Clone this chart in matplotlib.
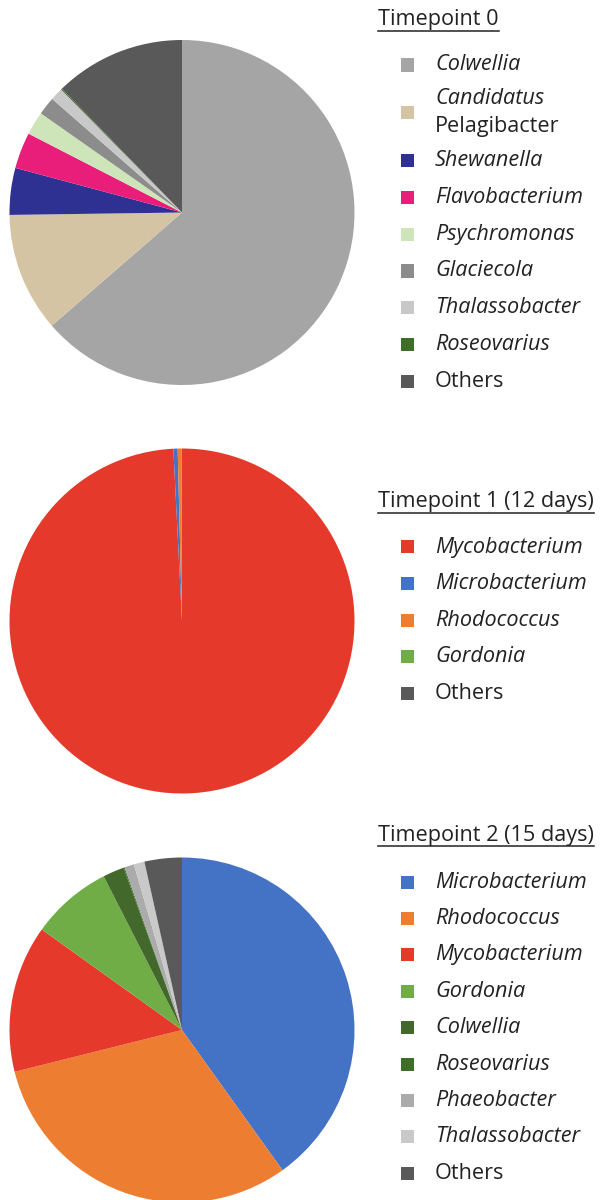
import matplotlib
matplotlib.use("Agg")
import matplotlib.pyplot as plt
from matplotlib.patches import Rectangle
from matplotlib.lines import Line2D

plt.rcParams['font.family'] = ['Open Sans', 'DejaVu Sans']

# Timepoint 0
t0_labels = ["Colwellia", "Candidatus\nPelagibacter", "Shewanella", "Flavobacterium",
             "Psychromonas", "Glaciecola", "Thalassobacter", "Roseovarius", "Others"]
t0_values = [63.8, 11.2, 4.4, 3.4, 2.2, 1.7, 1.2, 0.1, 12.3]
t0_colors = ["#A5A5A5", "#D5C4A3", "#2E3192", "#E91E7A", "#CDE5B9",
             "#8C8C8C", "#C8C8C8", "#3F6E28", "#595959"]

# Timepoint 1 (12 days)
t1_labels = ["Mycobacterium", "Microbacterium", "Rhodococcus", "Gordonia", "Others"]
t1_values = [99.2, 0.4, 0.35, 0.03, 0.02]
t1_colors = ["#E53A2B", "#4472C4", "#ED7D31", "#70AD47", "#595959"]

# Timepoint 2 (15 days)
t2_labels = ["Microbacterium", "Rhodococcus", "Mycobacterium", "Gordonia", "Colwellia",
             "Roseovarius", "Phaeobacter", "Thalassobacter", "Others"]
t2_values = [40.1, 31.0, 13.8, 7.6, 2.0, 0.1, 0.9, 1.0, 3.5]
t2_colors = ["#4472C4", "#ED7D31", "#E53A2B", "#70AD47", "#43682B",
             "#3F6E28", "#ABABAB", "#C9C9C9", "#595959"]

W, H = 603, 1200
FS = 15.6
fig = plt.figure(figsize=(W / 100, H / 100), dpi=100)

def px(x, y):
    # pixel (from top-left) -> figure fraction
    return x / W, 1 - y / H

def draw(values, colors, labels, title, cy, title_y, first_y, step):
    r = 172.5
    ax = fig.add_axes([(182 - r) / W, (H - cy - r) / H, 2 * r / W, 2 * r / H])
    wedges, _ = ax.pie(values, colors=colors, startangle=90, counterclock=False,
                       wedgeprops=dict(linewidth=0))
    ax.set_xlim(-1, 1)
    ax.set_ylim(-1, 1)
    ax.set_aspect('equal')
    ax.axis('off')

    t = fig.text(*px(378, title_y), title, fontsize=FS, va='center', ha='left', color='#222222')
    fig.canvas.draw()
    bb = t.get_window_extent()
    uy = 1 - (title_y + 11) / H
    fig.add_artist(Line2D([bb.x0 / W, bb.x1 / W], [uy, uy], color='#222222', lw=1.1))

    y = first_y
    for i, lab in enumerate(labels):
        lines = lab.split("\n")
        if len(lines) > 1:
            y += 11
        fig.add_artist(Rectangle(px(401, y + 6.5), 13 / W, 13 / H, color=colors[i], lw=0))
        if len(lines) == 1:
            fig.text(*px(435, y), lab, fontsize=FS, va='center', ha='left', color='#222222',
                     style='normal' if lab == "Others" else 'italic')
        else:
            fig.text(*px(435, y - 14), lines[0], fontsize=FS, va='center', ha='left',
                     color='#222222', style='italic')
            fig.text(*px(435, y + 14), lines[1], fontsize=FS, va='center', ha='left',
                     color='#222222')
            y += 11
        y += step

draw(t0_values, t0_colors, t0_labels, "Timepoint 0", 212.5, 20, 65, 36.8)
draw(t1_values, t1_colors, t1_labels, "Timepoint 1 (12 days)", 621, 502, 547, 36.6)
draw(t2_values, t2_colors, t2_labels, "Timepoint 2 (15 days)", 1030, 835, 882, 36.4)

fig.savefig("out.png", dpi=100)
